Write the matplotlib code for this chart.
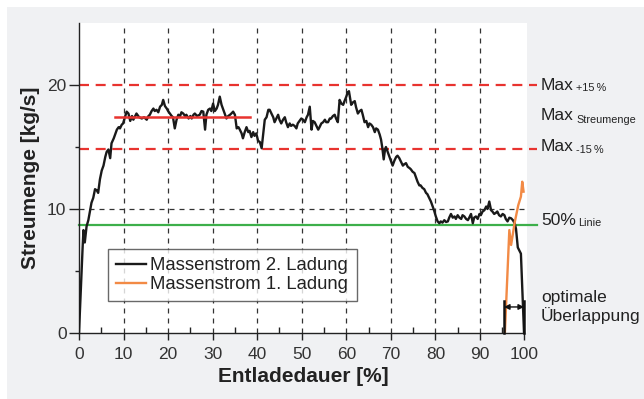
import matplotlib
matplotlib.use("Agg")
import matplotlib.pyplot as plt
from matplotlib.patches import Rectangle

plt.rcParams['font.family'] = ['Liberation Sans', 'DejaVu Sans']

# ---- data ----
x2 = [0.0, 0.4, 0.8, 1.0, 1.3, 1.7, 2.1, 2.5, 2.8, 3.2, 3.6, 4.0, 4.3, 4.7, 5.1, 5.5, 5.9, 6.2, 6.6, 7.0,
      7.3, 7.8, 8.2, 8.5, 8.9, 9.2, 9.6, 9.9, 10.3, 10.7, 11.1, 11.5, 11.9, 12.2, 12.9, 13.5, 14.1, 14.6, 15.2, 15.6,
      15.9, 16.3, 16.7, 17.0, 17.4, 17.8, 18.2, 18.6, 18.9, 19.3, 19.7, 20.0, 20.4, 20.8, 21.1, 21.5, 21.9, 22.3, 22.7, 23.0,
      23.4, 23.8, 24.1, 24.6, 25.0, 25.3, 25.7, 26.0, 26.5, 27.1, 27.5, 27.9, 28.3, 28.6, 29.0, 29.4, 29.7, 30.1, 30.5, 30.9,
      31.2, 31.6, 32.0, 32.4, 32.8, 33.1, 33.5, 33.9, 34.2, 34.6, 35.0, 35.4, 35.8, 36.1, 36.5, 36.8, 37.2, 37.6, 38.0, 38.3,
      38.7, 39.1, 39.4, 39.8, 40.2, 40.6, 41.0, 41.3, 41.7, 42.1, 42.5, 42.8, 43.2, 43.6, 43.9, 44.3, 44.7, 45.0, 45.4, 45.8,
      46.2, 46.5, 46.9, 47.3, 47.6, 48.0, 48.4, 48.8, 49.1, 49.5, 49.9, 50.3, 50.7, 51.1, 51.4, 51.8, 52.2, 52.5, 52.9, 53.3,
      53.7, 54.0, 54.4, 54.8, 55.2, 55.5, 55.9, 56.3, 56.6, 57.0, 57.4, 57.7, 58.1, 58.5, 58.9, 59.3, 59.6, 60.0, 60.3, 60.6,
      61.1, 61.5, 61.9, 62.2, 62.6, 63.0, 63.4, 63.7, 64.1, 64.5, 64.9, 65.2, 65.6, 66.0, 66.4, 66.7, 67.1, 67.5, 67.8, 68.1,
      68.4, 68.7, 68.9, 69.3, 69.7, 70.0, 70.4, 70.8, 71.2, 71.5, 71.9, 72.3, 72.7, 73.0, 73.4, 73.8, 74.2, 74.5, 74.9, 75.3,
      75.6, 76.0, 76.4, 76.7, 77.1, 77.5, 77.9, 78.2, 78.6, 79.0, 79.4, 79.7, 80.1, 80.5, 80.9, 81.2, 81.6, 82.0, 82.4, 82.8,
      83.1, 83.5, 83.9, 84.3, 84.6, 85.0, 85.4, 85.8, 86.1, 86.5, 86.9, 87.3, 87.6, 88.0, 88.4, 88.7, 89.1, 89.5, 89.9, 90.2,
      90.6, 91.0, 91.4, 91.7, 92.1, 92.5, 92.8, 93.2, 93.6, 93.9, 94.3, 94.7, 95.1, 95.5, 95.8, 96.2, 96.6, 97.0, 97.4, 97.8,
      98.1, 98.5, 99.2, 99.9]
y2 = [0.0, 3.5, 6.8, 8.3, 7.3, 8.6, 9.1, 9.9, 10.5, 10.9, 11.6, 11.5, 11.3, 12.4, 13.1, 13.5, 14.2, 14.6, 14.8, 14.1,
      15.3, 15.7, 16.1, 16.4, 16.6, 16.5, 16.8, 16.9, 17.4, 17.85, 17.7, 17.1, 17.5, 17.2, 17.7, 17.4, 17.3, 17.4, 17.2, 17.5,
      17.6, 17.9, 18.1, 17.9, 18.0, 17.8, 18.25, 18.4, 18.8, 18.3, 18.1, 17.9, 17.7, 17.5, 17.4, 16.5, 17.2, 17.6, 17.5, 17.8,
      17.7, 17.5, 17.6, 17.3, 17.5, 17.3, 17.6, 17.7, 17.5, 17.6, 17.9, 17.85, 16.4, 17.6, 18.0, 18.1, 17.9, 18.5, 17.9, 18.1,
      18.4, 19.06, 18.4, 18.0, 17.6, 17.3, 17.5, 17.6, 17.7, 17.85, 17.6, 16.5, 16.6, 16.4, 16.1, 15.7, 16.2, 16.6, 16.2, 16.3,
      15.8, 16.2, 15.9, 16.1, 15.5, 15.4, 14.9, 15.9, 17.2, 17.4, 18.0, 18.0, 17.7, 17.4, 17.0, 17.3, 17.6, 17.2, 16.9, 17.2,
      17.4, 17.0, 16.6, 16.9, 16.7, 16.8, 16.7, 16.5, 16.9, 17.1, 17.3, 17.2, 17.0, 17.4, 17.6, 18.25, 16.4, 17.1, 17.0, 16.7,
      16.4, 16.6, 16.9, 17.0, 17.2, 17.0, 17.0, 17.3, 17.3, 17.5, 17.6, 17.3, 17.0, 18.8, 18.5, 18.4, 18.7, 19.06, 19.4, 19.5,
      18.4, 18.6, 18.7, 18.2, 17.7, 17.9, 18.0, 17.6, 17.0, 17.1, 16.6, 16.9, 16.8, 16.6, 16.2, 16.5, 16.4, 16.0, 15.6, 14.9,
      14.0, 14.8, 15.0, 14.6, 14.2, 13.9, 13.5, 13.9, 14.2, 14.3, 14.1, 13.8, 13.5, 13.6, 13.7, 13.4, 13.3, 13.2, 13.0, 12.9,
      12.6, 12.2, 11.9, 11.9, 11.7, 11.6, 11.3, 11.2, 10.9, 10.6, 10.2, 9.9, 9.4, 9.0, 8.85, 9.0, 8.9, 9.1, 8.95, 9.0,
      9.3, 9.6, 9.3, 9.4, 9.2, 9.5, 9.3, 9.2, 9.5, 9.4, 9.2, 9.1, 9.3, 9.6, 8.85, 9.3, 9.4, 9.2, 9.6, 9.5,
      9.8, 9.9, 10.2, 10.0, 10.6, 9.9, 9.8, 9.6, 9.7, 9.8, 9.5, 9.4, 9.6, 9.5, 9.2, 9.0, 9.3, 9.25, 9.1, 8.85,
      8.4, 6.9, 6.4, 0.0]

x1 = [95.6, 96.6, 97.0, 97.8, 98.6, 99.2, 99.5, 99.8]
y1 = [0.0, 8.3, 7.1, 8.9, 10.3, 11.0, 12.2, 11.4]

max_level = 17.4
max_plus = 20.0
max_minus = 14.8
half_level = 8.7
max_line_x = [8.1, 38.3]
overlap_x = [95.4, 99.9]
overlap_h = 2.6
arrow_y = 2.1

labels = ["Massenstrom 2. Ladung", "Massenstrom 1. Ladung"]
x_ticks = list(range(0, 101, 10))
x_minor = list(range(5, 100, 10))
y_ticks = [0, 10, 20]
y_minor = [5, 15]

W, H = 644, 399
fig = plt.figure(figsize=(W / 100, H / 100), dpi=100)
fig.patch.set_facecolor('white')
fig.patches.append(Rectangle((7 / W, 0), 1 - 7 / W, 1 - 7 / H, transform=fig.transFigure,
                             facecolor='#f0f1f3', edgecolor='none', zorder=-10))

ax = fig.add_axes([79 / W, 66 / H, (526.7 - 79) / W, 310 / H])
ax.set_facecolor('white')
ax.set_xlim(0, 100.5)
ax.set_ylim(0, 25)

for s in ['top', 'right']:
    ax.spines[s].set_visible(False)
ax.spines['bottom'].set_bounds(0, 100)
for s in ['left', 'bottom']:
    ax.spines[s].set_color('#222222')
    ax.spines[s].set_linewidth(1.0)

ax.set_xticks(x_ticks)
ax.set_xticks(x_minor, minor=True)
ax.set_yticks(y_ticks)
ax.set_yticks(y_minor, minor=True)
ax.tick_params(axis='x', which='major', direction='out', length=5, width=1, pad=5,
               labelsize=12.5, colors='#222222', labelcolor='#333333')
ax.tick_params(axis='x', which='minor', direction='in', length=4, width=1, colors='#222222')
ax.tick_params(axis='y', which='major', direction='out', length=7, width=1, pad=2,
               labelsize=12.5, colors='#222222', labelcolor='#333333')
ax.tick_params(axis='y', which='minor', direction='out', length=3, width=1, colors='#222222')

# grid
for xv in x_ticks[1:-1]:
    ax.axvline(xv, color='#333333', lw=0.9, ls=(0, (4, 4)), zorder=1)
ax.axhline(10, color='#333333', lw=0.9, ls=(0, (4, 4)), zorder=1)

# reference lines
ax.plot([0, 102.8], [max_plus, max_plus], color='#e8332f', lw=1.6, ls=(0, (4.5, 3)), clip_on=False, zorder=2)
ax.plot([0, 102.8], [max_minus, max_minus], color='#e8332f', lw=1.6, ls=(0, (4.5, 3)), clip_on=False, zorder=2)
ax.plot([0, 102.8], [half_level, half_level], color='#3daf4a', lw=1.6, clip_on=False, zorder=2)

l2, = ax.plot(x2, y2, color='#1a1a1a', lw=1.7, zorder=3, label=labels[0])
l1, = ax.plot(x1, y1, color='#f28a45', lw=1.7, zorder=4, label=labels[1])
ax.plot(max_line_x, [max_level, max_level], color='#e8332f', lw=1.8, zorder=5)

# overlap markers
for xv in overlap_x:
    ax.plot([xv, xv], [0, overlap_h], color='#111111', lw=1.8, zorder=5, clip_on=False)
ax.annotate('', xy=(overlap_x[0], arrow_y), xytext=(overlap_x[1], arrow_y),
            arrowprops=dict(arrowstyle='<|-|>', color='#111111', lw=1.0,
                            mutation_scale=8, shrinkA=0, shrinkB=0), zorder=6)

leg = ax.legend(handles=[l2, l1], loc='upper left', bbox_to_anchor=(29 / 447.7, 84 / 310),
                borderaxespad=0, fontsize=13.3, frameon=True, fancybox=False,
                handlelength=1.6, handletextpad=0.25, labelspacing=0.1, borderpad=0.45)
leg.get_frame().set_edgecolor('#444444')
leg.get_frame().set_linewidth(1.0)
for t in leg.get_texts():
    t.set_color('#222222')

ax.set_xlabel('Entladedauer [%]', fontsize=15, fontweight='bold', color='#222222', labelpad=4)
ax.set_ylabel('Streumenge [kg/s]', fontsize=15, fontweight='bold', color='#222222', labelpad=5)


def ftext(xp, yp, s, size, **kw):
    fig.text(xp / W, 1 - yp / H, s, fontsize=size, color='#222222', va='baseline', ha='left', **kw)


ftext(541, 89.5, 'Max', 12.5)
ftext(576.5, 91, '+15\u2009%', 7.8)
ftext(541, 120.5, 'Max', 12.5)
ftext(576.5, 123, 'Streumenge', 7.8)
ftext(541, 151, 'Max', 12.5)
ftext(576.5, 153.3, '-15\u2009%', 7.8)
ftext(541, 224.5, '50%', 12.5)
ftext(578, 226, 'Linie', 7.8)
ftext(541, 302, 'optimale', 12.5)
ftext(541, 320.5, 'Überlappung', 12.5)

fig.savefig('out.png', dpi=100)
